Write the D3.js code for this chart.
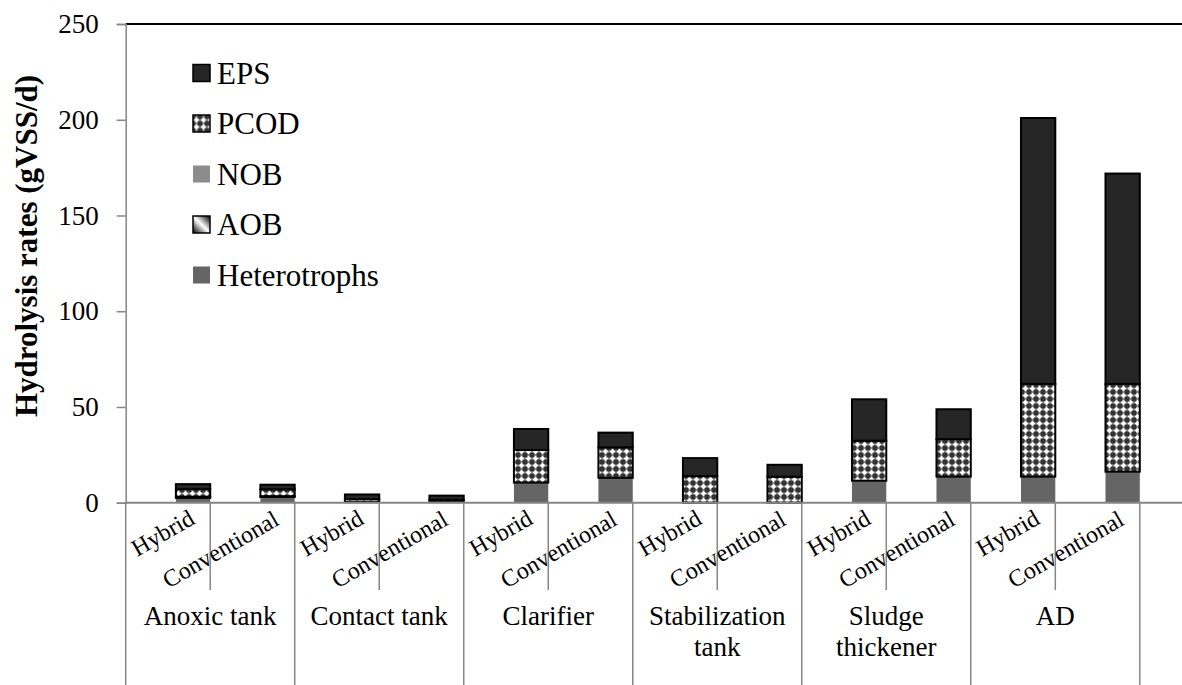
<!DOCTYPE html>
<html>
<head>
<meta charset="utf-8">
<title>Hydrolysis rates</title>
<script src="https://d3js.org/d3.v7.min.js"></script>
<style>
  body { margin: 0; background: #fff; }
</style>
</head>
<body>
<script>
// data
const groups = ["Anoxic tank", "Contact tank", "Clarifier", "Stabilization tank", "Sludge thickener", "AD"];
const systems = ["Hybrid", "Conventional"];
const seriesNames = ["Heterotrophs", "AOB", "NOB", "PCOD", "EPS"];
// one value per bar: Hybrid, Conventional for each group in order
const heterotrophs = [2.5, 3, 0.3, 0.3, 10.5, 13, 0, 0, 11.5, 13.6, 13.6, 16.2];
const aob          = [0.4, 0.3, 0, 0, 0, 0, 0, 0, 0, 0, 0, 0];
const nob          = [0.2, 0.1, 0, 0, 0, 0, 0, 0, 0, 0, 0, 0];
const pcod         = [4, 3.6, 1.5, 1.2, 17, 15.9, 13.9, 13.6, 20.9, 19.6, 48.4, 45.8];
const eps          = [2.6, 2.4, 2.5, 2.2, 11, 7.7, 9.4, 6.2, 21.6, 15.6, 138.9, 109.9];
const yTicks = [0, 50, 100, 150, 200, 250];

const W = 1182, H = 685;
const FONT = "Liberation Serif";
const svg = d3.select("body").append("svg").attr("width", W).attr("height", H)
  .attr("font-family", FONT);

// patterns
const defs = svg.append("defs");
const pc = defs.append("pattern").attr("id", "pcod").attr("patternUnits", "userSpaceOnUse")
  .attr("width", 7).attr("height", 7);
pc.append("rect").attr("width", 7).attr("height", 7).attr("fill", "#333");
pc.append("rect").attr("x", 2.5).attr("y", 0.5).attr("width", 2).attr("height", 6).attr("fill", "#f2f2f2");
pc.append("rect").attr("x", 0.5).attr("y", 2.5).attr("width", 6).attr("height", 2).attr("fill", "#f2f2f2");
pc.append("rect").attr("x", 2).attr("y", 2).attr("width", 3).attr("height", 3).attr("fill", "#fff");
const ag = defs.append("linearGradient").attr("id", "aob")
  .attr("x1", 0).attr("y1", 1).attr("x2", 1).attr("y2", 0);
ag.append("stop").attr("offset", "0").attr("stop-color", "#000");
ag.append("stop").attr("offset", "0.5").attr("stop-color", "#fff");
ag.append("stop").attr("offset", "1").attr("stop-color", "#000");

const fills = {
  Heterotrophs: "#656565",
  AOB: "url(#aob)",
  NOB: "#8c8c8c",
  PCOD: "url(#pcod)",
  EPS: "#262626"
};
const strokes = { Heterotrophs: "none", AOB: "#000", NOB: "none", PCOD: "#000", EPS: "#000" };

const rows = heterotrophs.map((d, i) => ({
  i: i,
  Heterotrophs: d, AOB: aob[i], NOB: nob[i], PCOD: pcod[i], EPS: eps[i]
}));

const x = d3.scaleBand().domain(d3.range(rows.length)).range([125.7, 1190]).padding(0.594);
const y = d3.scaleLinear().domain([0, 250]).range([502.7, 24]);
const step = x.step();
const x0 = 125.7;

const stack = d3.stack().keys(seriesNames)(rows);

// top border
svg.append("line").attr("x1", x0).attr("x2", W).attr("y1", y(250)).attr("y2", y(250))
  .attr("stroke", "#000").attr("stroke-width", 2);

// bars
svg.append("g").selectAll("g").data(stack).join("g")
  .attr("fill", d => fills[d.key])
  .attr("stroke", d => strokes[d.key])
  .attr("stroke-width", 2)
  .selectAll("rect").data(d => d.filter(p => p[1] - p[0] > 0)).join("rect")
  .attr("x", d => x(d.data.i))
  .attr("width", x.bandwidth())
  .attr("y", d => y(d[1]))
  .attr("height", d => y(d[0]) - y(d[1]));

// y axis
const yAxis = svg.append("g").attr("transform", `translate(${x0},0)`)
  .call(d3.axisLeft(y).tickValues(yTicks).tickSize(9).tickPadding(18));
yAxis.attr("font-family", FONT);
yAxis.select(".domain").attr("stroke", "#868686").attr("stroke-width", 1.5);
yAxis.selectAll(".tick line").attr("stroke", "#868686").attr("stroke-width", 1.5);
yAxis.selectAll(".tick text").attr("font-size", 27).attr("fill", "#000").attr("font-family", FONT);

svg.append("text")
  .attr("transform", "translate(37,246) rotate(-90)")
  .attr("text-anchor", "middle").attr("font-weight", "bold").attr("font-size", 31)
  .attr("font-family", FONT)
  .text("Hydrolysis rates (gVSS/d)");

// x axis line and separators
svg.append("line").attr("x1", x0).attr("x2", W).attr("y1", y(0)).attr("y2", y(0))
  .attr("stroke", "#868686").attr("stroke-width", 2);
const sep = svg.append("g").attr("stroke", "#868686").attr("stroke-width", 1.5);
sep.selectAll("line.grp").data(d3.range(groups.length + 1)).join("line")
  .attr("x1", k => x0 + k * 2 * step).attr("x2", k => x0 + k * 2 * step)
  .attr("y1", y(0)).attr("y2", H);
sep.selectAll("line.sub").data(d3.range(groups.length)).join("line")
  .attr("x1", k => x0 + (k * 2 + 1) * step).attr("x2", k => x0 + (k * 2 + 1) * step)
  .attr("y1", y(0)).attr("y2", 590);

// rotated system labels
svg.append("g").selectAll("text").data(rows).join("text")
  .attr("transform", d => `translate(${x(d.i) + x.bandwidth() / 2 + 3},${d.i % 2 ? 524 : 523}) rotate(-30)`)
  .attr("text-anchor", "end").attr("font-size", 24).attr("font-family", FONT)
  .text(d => systems[d.i % 2]);

// group labels
const gl = svg.append("g").selectAll("text").data(groups).join("text")
  .attr("x", (d, k) => x0 + (k * 2 + 1) * step)
  .attr("y", 625)
  .attr("text-anchor", "middle").attr("font-size", 27).attr("font-family", FONT);
gl.each(function(d) {
  const words = d === "Stabilization tank" ? ["Stabilization", "tank"]
    : d === "Sludge thickener" ? ["Sludge", "thickener"] : [d];
  const t = d3.select(this);
  words.forEach((w, j) => t.append("tspan").attr("x", t.attr("x")).attr("dy", j ? 31 : 0).text(w));
});

// legend (top entry first)
const legendOrder = ["EPS", "PCOD", "NOB", "AOB", "Heterotrophs"];
const lg = svg.append("g").selectAll("g").data(legendOrder).join("g")
  .attr("transform", (d, k) => `translate(193,${73 + k * 50.5})`);
lg.append("rect").attr("x", 0).attr("y", -8.5).attr("width", 17).attr("height", 17)
  .attr("fill", d => fills[d])
  .attr("stroke", d => strokes[d] === "none" ? "none" : "#000").attr("stroke-width", 1.5);
lg.append("text").attr("x", 24).attr("y", 10.5).attr("font-size", 31).attr("font-family", FONT).text(d => d);
</script>
</body>
</html>
